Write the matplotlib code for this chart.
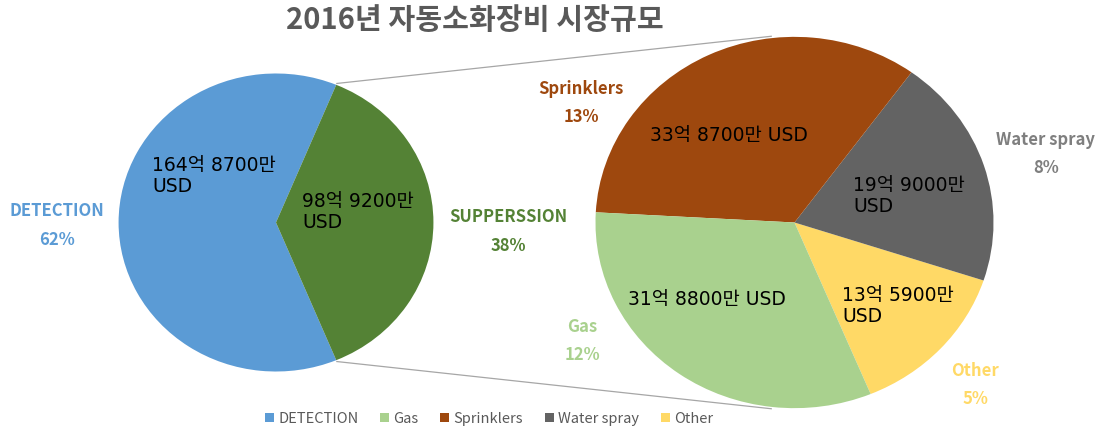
import matplotlib
matplotlib.use("Agg")
import matplotlib.pyplot as plt
from matplotlib.patches import Patch
import numpy as np

plt.rcParams['font.family'] = ['Noto Sans CJK KR', 'DejaVu Sans']

# ---- data (values in 만 USD) ----
title = "2016년 자동소화장비 시장규모"
main_labels = ["DETECTION", "SUPPERSSION"]
main_values = [1648700, 989200]
main_colors = ["#5B9BD5", "#548235"]

sub_labels = ["Other", "Water spray", "Sprinklers", "Gas"]
sub_values = [135900, 199000, 338700, 318800]
sub_colors = ["#FFD966", "#636363", "#9E480E", "#A9D18E"]
sub_label_colors = ["#FFD966", "#7F7F7F", "#9E480E", "#A9D18E"]

legend_order = ["DETECTION", "Gas", "Sprinklers", "Water spray", "Other"]

W, H = 1102, 429
DPI = 100


def fmt_value(v):
    eok, man = divmod(v, 10000)
    return f"{eok}억 {man}만"


total = main_values[0] + sum(sub_values)

fig = plt.figure(figsize=(W / DPI, H / DPI), dpi=DPI)
fig.patch.set_facecolor("white")


def pixel_axes(z):
    ax = fig.add_axes([0, 0, 1, 1], zorder=z)
    ax.set_xlim(0, W)
    ax.set_ylim(H, 0)
    ax.axis("off")
    ax.patch.set_alpha(0)
    return ax


# back layer for connectors, front layer for labels
back = pixel_axes(0)
front = pixel_axes(5)


def pie_axes(cx, cy, rx, ry, z):
    ax = fig.add_axes([(cx - rx) / W, 1 - (cy + ry) / H, 2 * rx / W, 2 * ry / H], zorder=z)
    ax.patch.set_alpha(0)
    return ax


wedge_style = dict(edgecolor="none", linewidth=0, antialiased=True)

# main pie
mc, mrx, mry = (276, 222.5), 159, 150.5
ax1 = pie_axes(mc[0], mc[1], mrx, mry, 2)
sup_half = 180 * main_values[1] / sum(main_values)
ax1.pie(main_values, colors=main_colors, startangle=sup_half, counterclock=True,
        wedgeprops=wedge_style)
ax1.set_aspect("auto")
ax1.set_xlim(-1.01, 1.01)
ax1.set_ylim(-1.01, 1.01)

# secondary pie
sc, srx, sry = (794.5, 222.5), 201, 187.5
ax2 = pie_axes(sc[0], sc[1], srx, sry, 2)
ax2.pie(sub_values, colors=sub_colors, startangle=-sup_half, counterclock=True,
        wedgeprops=wedge_style)
ax2.set_aspect("auto")
ax2.set_xlim(-1.01, 1.01)
ax2.set_ylim(-1.01, 1.01)

# connector lines: from the edges of the split wedge, tangent to the secondary pie
a = np.deg2rad(sup_half)
for sign in (1, -1):
    px = mc[0] + mrx * np.cos(a)
    py = mc[1] - sign * mry * np.sin(a)
    ux, uy = (px - sc[0]) / srx, (py - sc[1]) / sry
    d = np.hypot(ux, uy)
    th = np.arctan2(uy, ux) + sign * np.arccos(1 / d)
    tx, ty = sc[0] + srx * np.cos(th), sc[1] + sry * np.sin(th)
    back.plot([px, tx], [py, ty], color="#A6A6A6", lw=0.9)

# title
front.text(475, 20, title, ha="center", va="center", fontsize=21, fontweight="bold",
           color="#595959")

# value labels inside slices (latin/digits in DejaVu, hangul falls back to Noto CJK)
val_fs = 13.5
val_family = ['DejaVu Sans', 'Noto Sans CJK KR']
front.text(152, 176, fmt_value(main_values[0]) + "\nUSD", ha="left", va="center",
           fontsize=val_fs, color="black", linespacing=1.15, family=val_family)
front.text(302, 212, fmt_value(main_values[1]) + "\nUSD", ha="left", va="center",
           fontsize=val_fs, color="black", linespacing=1.15, family=val_family)

sub_val_pos = {
    "Sprinklers": (650, 135, False),
    "Water spray": (853, 196, True),
    "Gas": (628, 299, False),
    "Other": (842, 306, True),
}
for lab, v in zip(sub_labels, sub_values):
    x, y, two = sub_val_pos[lab]
    s = fmt_value(v) + ("\nUSD" if two else " USD")
    front.text(x, y, s, ha="left", va="center", fontsize=val_fs, color="black",
               linespacing=1.15, family=val_family)

# category / percent labels
cat_fs = 12
main_pcts = [main_values[0] / total, sum(sub_values) / total]
main_cat_pos = [(57, 211), (508, 217)]
for lab, p, col, (x, y) in zip(main_labels, main_pcts, main_colors, main_cat_pos):
    front.text(x, y, lab, ha="center", va="center", fontsize=cat_fs, fontweight="bold", color=col)
    front.text(x, y + 29, f"{round(p * 100)}%", ha="center", va="center", fontsize=cat_fs,
               fontweight="bold", color=col)

sub_cat_pos = {
    "Sprinklers": (581, 89),
    "Water spray": (1046, 140),
    "Gas": (582, 327),
    "Other": (975, 371),
}
for lab, v, col in zip(sub_labels, sub_values, sub_label_colors):
    x, y = sub_cat_pos[lab]
    front.text(x, y, lab, ha="center", va="center", fontsize=cat_fs, fontweight="bold", color=col)
    front.text(x, y + 28, f"{round(v / total * 100)}%", ha="center", va="center",
               fontsize=cat_fs, fontweight="bold", color=col)

# legend
color_map = dict(zip(main_labels + sub_labels, main_colors + sub_colors))
handles = [Patch(facecolor=color_map[l], edgecolor="none", label=l) for l in legend_order]
fig.legend(handles=handles, loc="center", bbox_to_anchor=(489 / W, 1 - 419 / H), ncol=5,
           frameon=False, fontsize=10.5, handlelength=0.6, handleheight=0.6,
           handletextpad=0.3, columnspacing=1.5, labelcolor="#595959")

fig.savefig("out.png", dpi=DPI, facecolor="white")
